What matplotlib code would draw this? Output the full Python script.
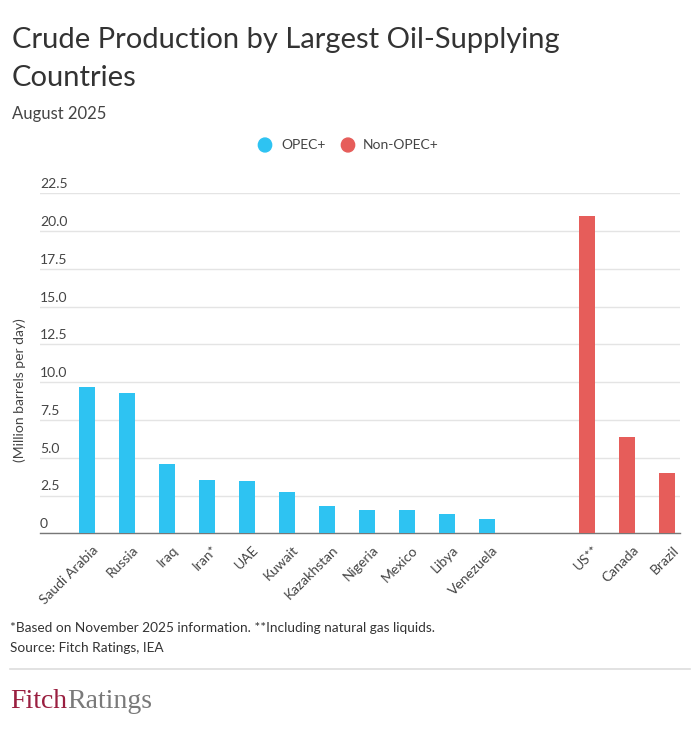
import numpy as np
import matplotlib.pyplot as plt
from matplotlib.transforms import blended_transform_factory, ScaledTranslation

plt.rcParams['font.family'] = ['Lato', 'DejaVu Sans']

opec = ['Saudi Arabia', 'Russia', 'Iraq', 'Iran*', 'UAE', 'Kuwait', 'Kazakhstan',
        'Nigeria', 'Mexico', 'Libya', 'Venezuela']
opec_vals = [9.70, 9.27, 4.57, 3.53, 3.44, 2.73, 1.81, 1.52, 1.52, 1.30, 0.95]
non_opec = ['US**', 'Canada', 'Brazil']
non_opec_vals = [21.02, 6.35, 3.99]
yticks = [0, 2.5, 5.0, 7.5, 10.0, 12.5, 15.0, 17.5, 20.0, 22.5]
ytick_labels = ['0', '2.5', '5.0', '7.5', '10.0', '12.5', '15.0', '17.5', '20.0', '22.5']

blue = '#2ec3f2'
red = '#e65d5a'

fig = plt.figure(figsize=(7, 7.32), dpi=100)
ax = fig.add_axes([40 / 700, (732 - 533.3) / 732, 640 / 700, 340 / 732])

x1 = np.arange(len(opec))
x2 = len(opec) + 1.5 + np.arange(len(non_opec))
ax.bar(x1, opec_vals, width=0.4, color=blue, zorder=3)
ax.bar(x2, non_opec_vals, width=0.4, color=red, zorder=3)

ax.set_xlim(-1.17, 14.82)
ax.set_ylim(0, 22.5)
ax.set_yticks(yticks)
ax.set_yticklabels([])
ax.tick_params(axis='y', length=0)
ax.grid(axis='y', color='#e4e4e4', linewidth=1, zorder=0)
for s in ['top', 'right', 'left']:
    ax.spines[s].set_visible(False)
ax.spines['bottom'].set_color('#777777')
ax.spines['bottom'].set_linewidth(1)

trans = blended_transform_factory(ax.transAxes, ax.transData)
for v, lab in zip(yticks, ytick_labels):
    ax.text(0.0, v + 0.2, lab, transform=trans, ha='left', va='bottom',
            fontsize=10, color='#444444')

ax.set_xticks(list(x1) + list(x2))
ax.set_xticklabels(opec + non_opec, rotation=45, ha='right', rotation_mode='anchor',
                   fontsize=10, color='#444444')
ax.tick_params(axis='x', length=0, pad=6)
shift = ScaledTranslation(5 / 100, -2 / 100, fig.dpi_scale_trans)
for lbl in ax.get_xticklabels():
    lbl.set_transform(lbl.get_transform() + shift)

fig.text(20 / 700, 1 - 390 / 732, '(Million barrels per day)', rotation=90,
         ha='center', va='center', fontsize=10, color='#444444')

fig.text(12 / 700, 1 - 48 / 732, 'Crude Production by Largest Oil-Supplying',
         fontsize=21, color='#333333', ha='left', va='baseline')
fig.text(12 / 700, 1 - 86 / 732, 'Countries',
         fontsize=21, color='#333333', ha='left', va='baseline')
fig.text(12 / 700, 1 - 119 / 732, 'August 2025', fontsize=12,
         color='#444444', ha='left', va='baseline')

# legend
fig.patches.append(plt.Circle((265 / 700, 1 - 145 / 732), 0.0095, color=blue,
                              transform=fig.transFigure, figure=fig))
fig.text(281 / 700, 1 - 145 / 732, 'OPEC+', fontsize=10, color='#444444',
         va='center')
fig.patches.append(plt.Circle((348 / 700, 1 - 145 / 732), 0.0095, color=red,
                              transform=fig.transFigure, figure=fig))
fig.text(363 / 700, 1 - 145 / 732, 'Non-OPEC+', fontsize=10, color='#444444',
         va='center')

fig.text(10 / 700, 1 - 632 / 732,
         '*Based on November 2025 information. **Including natural gas liquids.',
         fontsize=9.8, color='#333333')
fig.text(10 / 700, 1 - 652 / 732, 'Source: Fitch Ratings, IEA', fontsize=9.8,
         color='#333333')
fig.add_artist(plt.Line2D([10 / 700, 690 / 700], [1 - 669 / 732, 1 - 669 / 732],
                          color='#dddddd', linewidth=1.2))
fig.text(10 / 700, 1 - 708 / 732, 'Fitch', fontsize=20, color='#9a1f40',
         family='Liberation Serif')
fig.text(67 / 700, 1 - 708 / 732, 'Ratings', fontsize=20, color='#7a7a7a',
         family='Liberation Serif')

fig.savefig('out.png', dpi=100, facecolor='white')
